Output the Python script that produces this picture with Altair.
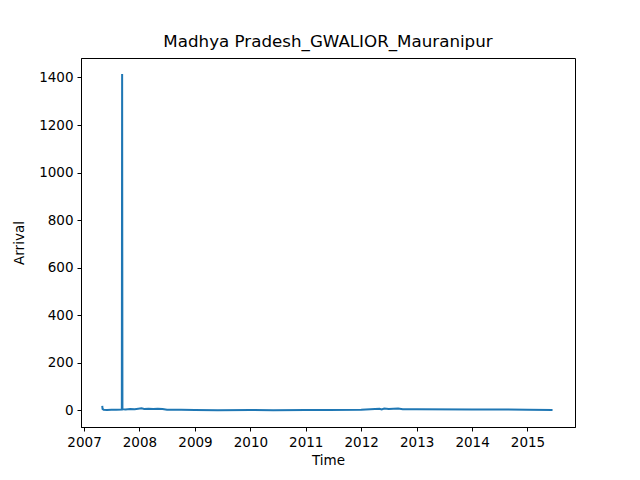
import altair as alt
import pandas as pd

# arrival series
dates = [
    "2007-05-01", "2007-05-03", "2007-05-10", "2007-06-01", "2007-07-01",
    "2007-08-01", "2007-09-07", "2007-09-09", "2007-09-11", "2007-10-01",
    "2007-11-01", "2007-12-01", "2008-01-15", "2008-02-01", "2008-03-01",
    "2008-04-01", "2008-05-01", "2008-06-01", "2008-07-01", "2008-10-01",
    "2009-01-01", "2009-06-01", "2010-01-01", "2010-06-01", "2011-01-01",
    "2011-06-01", "2012-01-01", "2012-05-01", "2012-05-15", "2012-06-01",
    "2012-07-01", "2012-08-01", "2012-09-01", "2012-10-01", "2013-01-01",
    "2014-01-01", "2015-01-01", "2015-06-15",
]
arrival = [
    18, 5, 2, 1, 2,
    2, 3, 1415, 4, 3,
    5, 4, 8, 5, 6,
    5, 6, 5, 2, 2,
    1, 0, 1, 0, 1,
    1, 2, 6, 3, 7,
    5, 6, 7, 4, 4,
    3, 2, 1,
]
year_ticks = [f"{y}-01-01" for y in range(2007, 2016)]
y_ticks = [0, 200, 400, 600, 800, 1000, 1200, 1400]

source = pd.DataFrame({"Time": pd.to_datetime(dates), "Arrival": arrival})

font = "DejaVu Sans"

chart = alt.Chart(source).mark_line(color="#1f77b4", strokeWidth=2).encode(
    alt.X("Time:T",
          scale=alt.Scale(domain=["2006-12-12", "2015-11-10"], nice=False),
          axis=alt.Axis(values=year_ticks, format="%Y", title="Time")),
    alt.Y("Arrival:Q",
          scale=alt.Scale(domain=[-71, 1482], nice=False, zero=False),
          axis=alt.Axis(values=y_ticks, format="d", title="Arrival")),
).properties(
    width=494,
    height=369,
    title=alt.TitleParams("Madhya Pradesh_GWALIOR_Mauranipur", font=font,
                          fontSize=16.7, fontWeight="normal", color="black", offset=7),
    autosize=alt.AutoSizeParams(type="none"),
    padding={"left": 73, "top": 50, "right": 57, "bottom": 45},
).configure_view(
    stroke="black", strokeWidth=1
).configure_axis(
    grid=False, domainColor="black", tickColor="black", tickSize=4,
    labelFont=font, labelFontSize=13.5, labelColor="black", labelPadding=4,
    titleFont=font, titleFontSize=13.5, titleFontWeight="normal", titleColor="black",
).configure_axisX(
    titlePadding=5, labelAngle=0
).configure_axisY(
    titlePadding=12
)

chart.save("out.html", embed_options={"renderer": "svg", "actions": False})
